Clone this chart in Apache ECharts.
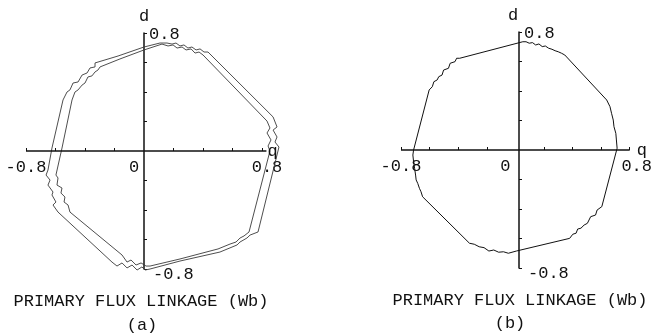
<!DOCTYPE html>
<html>
<head>
<meta charset="utf-8">
<script src="https://cdn.jsdelivr.net/npm/echarts@6/dist/echarts.min.js"></script>
<style>
html, body { margin: 0; padding: 0; background: #fff; }
#chart { width: 655px; height: 335px; }
</style>
</head>
<body>
<div id="chart"></div>
<script>
// Primary flux linkage locus in the d-q plane, values in Wb.
const tickValues = [-0.8, -0.6, -0.4, -0.2, 0.2, 0.4, 0.6, 0.8];
const qLabelValues = [-0.8, 0, 0.8];
const dLabelValues = [-0.8, 0.8];
const qAxisEnd = [0.83, 0.8];          // where the q axis line stops in (a) and (b)
const axisTitle = 'PRIMARY FLUX LINKAGE (Wb)';
const panelTags = ['(a)', '(b)'];

// (a) outer loop
const aOuterQ = [-0.332,-0.176,0,0.108,0.156,0.190,0.217,0.244,0.271,0.298,0.325,0.353,0.380,0.407,0.434,0.875,0.902,0.875,0.902,0.888,0.915,0.773,0.719,0.698,0.651,0.631,0.515,0.244,0.041,0.007,-0.014,-0.047,-0.081,-0.115,-0.149,-0.183,-0.217,-0.583,-0.617,-0.597,-0.624,-0.617,-0.651,-0.637,-0.664,-0.651,-0.624,-0.549,-0.522,-0.502,-0.481,-0.447,-0.420,-0.386,-0.366,-0.332,-0.332];
const aOuterD = [0.597,0.644,0.705,0.732,0.732,0.725,0.732,0.712,0.719,0.698,0.705,0.685,0.692,0.671,0.671,0.231,0.163,0.142,0.095,0.061,0.027,-0.549,-0.570,-0.590,-0.617,-0.637,-0.685,-0.746,-0.800,-0.807,-0.786,-0.807,-0.773,-0.793,-0.759,-0.780,-0.753,-0.414,-0.366,-0.346,-0.298,-0.278,-0.231,-0.197,-0.163,-0.129,0.020,0.346,0.400,0.414,0.461,0.468,0.515,0.529,0.563,0.570,0.597];

// (a) inner loop
const aInnerQ = [-0.298,-0.163,0,0.122,0.163,0.197,0.224,0.258,0.285,0.319,0.346,0.373,0.400,0.834,0.854,0.834,0.861,0.841,0.854,0.712,0.678,0.651,0.624,0.583,0.502,0.244,0.041,0.014,-0.020,-0.054,-0.088,-0.115,-0.149,-0.502,-0.515,-0.542,-0.536,-0.563,-0.556,-0.590,-0.583,-0.597,-0.556,-0.488,-0.468,-0.447,-0.420,-0.400,-0.380,-0.353,-0.332,-0.312,-0.298];
const aInnerD = [0.570,0.624,0.685,0.725,0.712,0.719,0.698,0.705,0.685,0.692,0.664,0.671,0.651,0.203,0.156,0.122,0.075,0.034,0,-0.549,-0.576,-0.590,-0.617,-0.631,-0.664,-0.732,-0.780,-0.780,-0.759,-0.773,-0.739,-0.753,-0.705,-0.414,-0.366,-0.346,-0.312,-0.285,-0.251,-0.231,-0.183,-0.163,0.020,0.346,0.400,0.414,0.447,0.461,0.502,0.509,0.536,0.549,0.570];

// (b) single loop
const bQ = [-0.389,0.052,0.075,0.097,0.120,0.142,0.165,0.188,0.210,0.233,0.256,0.278,0.300,0.323,0.346,0.639,0.662,0.673,0.685,0.690,0.703,0.707,0.712,0.605,0.572,0.561,0.527,0.504,0.481,0.459,0.436,0.425,0.402,0.380,0.007,-0.049,-0.083,-0.117,-0.151,-0.185,-0.219,-0.253,-0.287,-0.321,-0.332,-0.649,-0.660,-0.671,-0.683,-0.694,-0.698,-0.705,-0.712,-0.717,-0.712,-0.603,-0.581,-0.570,-0.547,-0.536,-0.513,-0.502,-0.468,-0.456,-0.422,-0.411,-0.389];
const bD = [0.622,0.734,0.734,0.724,0.728,0.712,0.719,0.701,0.705,0.690,0.683,0.673,0.666,0.656,0.644,0.339,0.294,0.249,0.203,0.158,0.113,0.068,0.012,-0.384,-0.407,-0.441,-0.452,-0.497,-0.509,-0.530,-0.536,-0.564,-0.571,-0.599,-0.685,-0.700,-0.690,-0.693,-0.678,-0.685,-0.662,-0.656,-0.639,-0.632,-0.622,-0.317,-0.283,-0.260,-0.226,-0.203,-0.170,-0.124,-0.079,-0.034,0,0.407,0.429,0.463,0.475,0.497,0.508,0.542,0.554,0.588,0.599,0.622,0.622];

const FONT = "'Liberation Mono', 'DejaVu Sans Mono', monospace";
const INK = '#111';
const PX_PER_WB = 147.5;   // drawing scale shared by both panels
const HALF = 0.8 * PX_PER_WB;
const Q_MAX = 0.95;        // room for the loop of (a) that runs past the q axis end
const zip = (q, d) => q.map((v, i) => [v, d[i]]);

// q axis: ticks and labels from the axis, the line itself is drawn by a markLine
function qAxis(gridIndex, max, rightPad) {
  return {
    type: 'value', gridIndex, min: -0.8, max, position: 'bottom', offset: -HALF,
    axisLine: { show: false, onZero: false },
    axisTick: { show: true, inside: true, length: 3, customValues: tickValues, lineStyle: { color: INK, width: 1 } },
    splitLine: { show: false },
    axisLabel: {
      customValues: qLabelValues, margin: 8, color: INK, fontFamily: FONT, fontSize: 17,
      formatter: v => v === 0 ? '{z|0}' : (v > 0 ? '{p|' + v + '}' : String(v)),
      rich: {
        z: { fontFamily: FONT, fontSize: 17, color: INK, padding: [0, 20, 0, 0] },
        p: { fontFamily: FONT, fontSize: 17, color: INK, padding: [0, 0, 0, rightPad] }
      }
    }
  };
}

function dAxis(gridIndex, namePad) {
  return {
    type: 'value', gridIndex, min: -0.8, max: 0.8, position: 'left', offset: -HALF,
    name: 'd', nameLocation: 'end', nameGap: 8,
    nameTextStyle: { fontFamily: FONT, fontSize: 17, color: INK, padding: namePad },
    axisLine: { onZero: false, lineStyle: { color: INK, width: 1.5 } },
    axisTick: { show: true, inside: true, length: 3, customValues: tickValues, lineStyle: { color: INK, width: 1 } },
    splitLine: { show: false },
    axisLabel: {
      customValues: dLabelValues, inside: true, margin: 5, color: INK, fontFamily: FONT, fontSize: 17,
      formatter: v => v < 0 ? '{lo|' + v + '}' : '{hi|' + v + '}',
      rich: {
        lo: { fontFamily: FONT, fontSize: 17, color: INK, padding: [10, 0, 0, 4] },
        hi: { fontFamily: FONT, fontSize: 17, color: INK, padding: [3, 0, 0, 0] }
      }
    }
  };
}

function qLine(end, gap) {
  return {
    symbol: 'none', silent: true, animation: false,
    lineStyle: { color: INK, width: 1.5, type: 'solid' },
    label: { show: true, position: 'end', distance: gap, formatter: 'q',
             fontFamily: FONT, fontSize: 17, color: INK },
    emphasis: { disabled: true },
    data: [[{ coord: [-0.8, 0] }, { coord: [end, 0] }]]
  };
}

function loop(data, ai, color, width, markLine) {
  const s = {
    type: 'line', xAxisIndex: ai, yAxisIndex: ai, data,
    showSymbol: false, symbol: 'none', clip: false, silent: true,
    lineStyle: { color, width }
  };
  if (markLine) s.markLine = markLine;
  return s;
}

function caption(text, x, y) {
  return {
    text, left: x, top: y, textAlign: 'center', padding: 0,
    textStyle: { fontFamily: FONT, fontSize: 17, fontWeight: 'normal', color: INK }
  };
}

const chart = echarts.init(document.getElementById('chart'), null, { renderer: 'canvas' });
chart.setOption({
  animation: false,
  backgroundColor: '#fff',
  grid: [
    { left: 26, top: 33, width: (Q_MAX + 0.8) * PX_PER_WB, height: 2 * HALF, containLabel: false },
    { left: 401, top: 32, width: 2 * HALF, height: 2 * HALF, containLabel: false }
  ],
  xAxis: [qAxis(0, Q_MAX, 10), qAxis(1, 0.8, 14)],
  yAxis: [dAxis(0, [0, 0, 0, 0]), dAxis(1, [0, 12, 0, 0])],
  title: [
    caption(axisTitle, 141, 293),
    caption(panelTags[0], 142, 317),
    caption(axisTitle, 520, 292),
    caption(panelTags[1], 510, 315)
  ],
  series: [
    loop(zip(aOuterQ, aOuterD), 0, '#3a3a3a', 0.9, qLine(qAxisEnd[0], 1)),
    loop(zip(aInnerQ, aInnerD), 0, '#3a3a3a', 0.9),
    loop(zip(bQ, bD), 1, '#111', 1, qLine(qAxisEnd[1], 7))
  ]
});
</script>
</body>
</html>
